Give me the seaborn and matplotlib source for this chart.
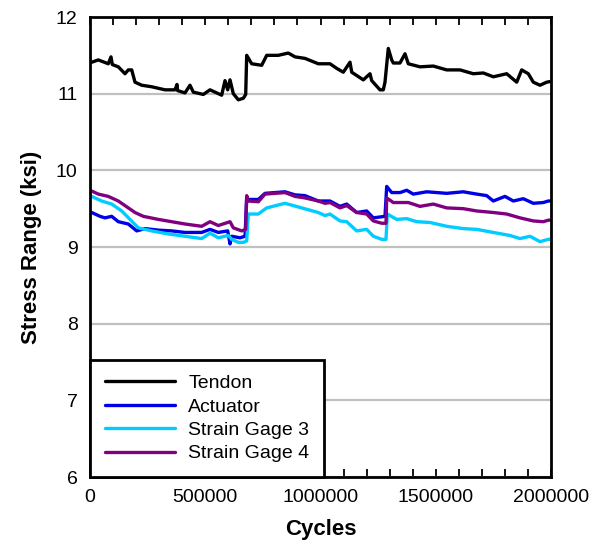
import numpy as np
import pandas as pd
import matplotlib
matplotlib.use("Agg")
import matplotlib.pyplot as plt
from matplotlib.ticker import MultipleLocator
import seaborn as sns

# Measured stress ranges (ksi) versus load cycles for each gauge
tendon_cycles = [0, 7400, 36000, 79400, 91100, 96700, 122800, 151800, 166200, 180900,
                 195200, 224300, 267700, 325400, 368800, 377500, 380000, 412100, 433800,
                 448200, 491500, 520600, 549700, 571300, 585700, 597400, 607400, 621700,
                 643400, 665100, 675500, 679800, 701500, 744900, 766600, 816900, 860300,
                 889400, 932800, 990500, 1041200, 1070300, 1098900, 1128000, 1135400,
                 1185700, 1214800, 1222100, 1258100, 1272400, 1279800, 1294100, 1308900,
                 1315800, 1344900, 1366600, 1380900, 1431700, 1489400, 1547500, 1605200,
                 1662900, 1706300, 1749700, 1807800, 1851200, 1872900, 1901500, 1923200,
                 1952300, 1981300, 2000000]
tendon_stress = [11.41, 11.41, 11.44, 11.39, 11.48, 11.38, 11.35, 11.26, 11.31, 11.31,
                 11.15, 11.11, 11.09, 11.05, 11.05, 11.12, 11.04, 11.01, 11.11,
                 11.02, 10.99, 11.05, 11.01, 10.98, 11.17, 11.05, 11.18, 11.00,
                 10.92, 10.94, 10.99, 11.50, 11.39, 11.37, 11.50, 11.50, 11.53,
                 11.48, 11.46, 11.39, 11.39, 11.33, 11.28, 11.41, 11.28,
                 11.18, 11.26, 11.17, 11.05, 11.05, 11.15, 11.59, 11.44,
                 11.40, 11.40, 11.52, 11.39, 11.35, 11.36, 11.31, 11.31,
                 11.26, 11.27, 11.22, 11.26, 11.15, 11.31, 11.26, 11.15,
                 11.11, 11.15, 11.16]

actuator_cycles = [0, 7400, 43400, 65100, 94100, 122800, 166200, 202600, 238600, 296300,
                   354400, 412100, 484600, 520600, 556600, 597400, 607400, 614700,
                   650800, 672500, 679800, 686800, 730200, 759200, 846000, 889400,
                   932800, 990500, 1041200, 1084600, 1113700, 1157000, 1200400,
                   1229100, 1279800, 1287200, 1308900, 1344900, 1374000, 1402600,
                   1460800, 1547500, 1619500, 1677700, 1721000, 1749700, 1800400,
                   1836500, 1879800, 1923200, 1966600, 1988300, 2000000]
actuator_stress = [9.45, 9.45, 9.40, 9.38, 9.40, 9.33, 9.30, 9.21, 9.24, 9.22,
                   9.21, 9.19, 9.19, 9.23, 9.19, 9.21, 9.04, 9.14,
                   9.12, 9.14, 9.64, 9.62, 9.62, 9.70, 9.72, 9.68,
                   9.67, 9.60, 9.60, 9.53, 9.56, 9.45, 9.47,
                   9.38, 9.40, 9.79, 9.71, 9.71, 9.74, 9.69,
                   9.72, 9.70, 9.72, 9.69, 9.67, 9.60, 9.66,
                   9.60, 9.63, 9.57, 9.58, 9.60, 9.60]

gage3_cycles = [0, 7400, 50800, 94100, 137500, 173500, 209500, 267700, 339700, 412100,
                484600, 520600, 556600, 600000, 614700, 643400, 665100, 679800,
                686800, 730200, 766600, 846000, 918500, 990500, 1019500, 1041200,
                1084600, 1113700, 1157000, 1200400, 1229100, 1265500, 1284200,
                1289800, 1330600, 1374000, 1417400, 1475100, 1547500, 1619500,
                1677700, 1749700, 1822100, 1865500, 1908900, 1952300, 1988300, 2000000]
gage3_stress = [9.66, 9.66, 9.60, 9.56, 9.47, 9.36, 9.25, 9.21, 9.17, 9.14,
                9.11, 9.18, 9.12, 9.15, 9.10, 9.06, 9.06, 9.08,
                9.43, 9.43, 9.51, 9.57, 9.51, 9.45, 9.41, 9.43,
                9.34, 9.33, 9.21, 9.23, 9.14, 9.10, 9.10,
                9.43, 9.36, 9.37, 9.33, 9.32, 9.27, 9.24,
                9.23, 9.19, 9.15, 9.11, 9.14, 9.07, 9.10, 9.10]

gage4_cycles = [0, 7400, 36000, 79400, 122800, 166200, 195200, 231200, 296300, 354400,
                412100, 484600, 520600, 556600, 607400, 621700, 658100, 675500,
                679800, 686800, 730200, 759200, 846000, 889400, 932800, 990500,
                1019500, 1041200, 1084600, 1113700, 1157000, 1200400, 1229100,
                1265500, 1284200, 1287200, 1315800, 1380900, 1431700, 1489400,
                1547500, 1619500, 1677700, 1749700, 1807800, 1865500, 1923200,
                1966600, 1988300, 2000000]
gage4_stress = [9.73, 9.73, 9.69, 9.66, 9.60, 9.51, 9.45, 9.40, 9.36, 9.33,
                9.30, 9.27, 9.33, 9.28, 9.33, 9.25, 9.21, 9.23,
                9.67, 9.60, 9.59, 9.69, 9.71, 9.66, 9.64, 9.60,
                9.57, 9.58, 9.51, 9.54, 9.45, 9.43, 9.34,
                9.31, 9.31, 9.64, 9.58, 9.58, 9.53, 9.56,
                9.51, 9.50, 9.47, 9.45, 9.43, 9.38, 9.34,
                9.33, 9.35, 9.35]

series_names = ["Tendon", "Actuator", "Strain Gage 3", "Strain Gage 4"]
series_colors = ["#000000", "#0000e6", "#00ccff", "#800080"]

frames = []
for name, xs, ys in zip(series_names,
                        [tendon_cycles, actuator_cycles, gage3_cycles, gage4_cycles],
                        [tendon_stress, actuator_stress, gage3_stress, gage4_stress]):
    frames.append(pd.DataFrame({"Cycles": xs, "Stress": ys, "Series": name}))
df = pd.concat(frames, ignore_index=True)

sns.set_theme(style="white")
plt.rcParams["font.family"] = ["Liberation Sans", "DejaVu Sans"]

fig = plt.figure(figsize=(5.95, 5.42), dpi=100)
ax = fig.add_axes([90 / 595, 65 / 542, 461 / 595, 460 / 542])

sns.lineplot(data=df, x="Cycles", y="Stress", hue="Series",
             hue_order=series_names, palette=series_colors,
             estimator=None, sort=False, linewidth=2.4, ax=ax)

ax.set_xlim(0, 2000000)
ax.set_ylim(6, 12)
ax.set_xticks([0, 500000, 1000000, 1500000, 2000000])
ax.set_xticklabels(["0", "500000", "1000000", "1500000", "2000000"])
ax.set_yticks([6, 7, 8, 9, 10, 11, 12])
ax.xaxis.set_minor_locator(MultipleLocator(100000))

ax.grid(axis="y", color="#c0c0c0", linewidth=1.6)
ax.set_axisbelow(True)

ax.tick_params(axis="x", which="both", direction="in", top=True, bottom=True,
               length=6, width=1.3, color="black", labelsize=14, pad=9)
ax.tick_params(axis="y", which="both", length=0, labelsize=14, pad=9)
for lbl in ax.get_xticklabels() + ax.get_yticklabels():
    lbl.set_color("black")

for spine in ax.spines.values():
    spine.set_color("black")
    spine.set_linewidth(2.0)

ax.set_xlabel("Cycles", fontsize=16, fontweight="bold", color="black", labelpad=9)
ax.set_ylabel("Stress Range (ksi)", fontsize=16, fontweight="bold", color="black", labelpad=10)

leg = ax.legend(loc="lower left", bbox_to_anchor=(0, 0), borderaxespad=0,
                fontsize=14, handlelength=3.6, handletextpad=0.7,
                labelspacing=0.3, frameon=True, fancybox=False,
                borderpad=0.75, framealpha=1)
leg.get_frame().set_edgecolor("black")
leg.get_frame().set_linewidth(2.0)
for line in leg.get_lines():
    line.set_linewidth(2.4)
for txt in leg.get_texts():
    txt.set_color("black")

fig.savefig("out.png", dpi=100, facecolor="white")
